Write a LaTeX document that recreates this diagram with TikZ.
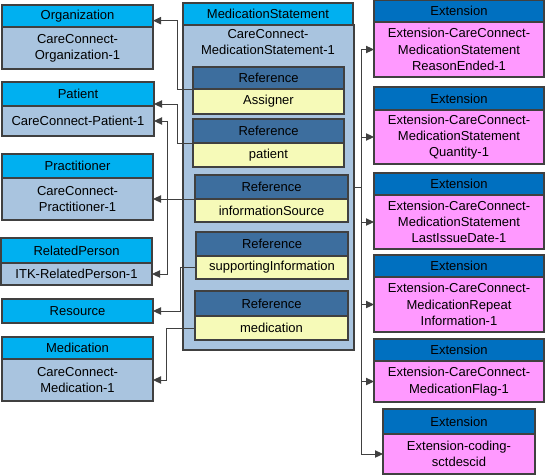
\documentclass[tikz,border=0pt]{standalone}
\usepackage{fontspec}
\setmainfont{Liberation Sans}
\usetikzlibrary{arrows.meta,calc}
\definecolor{hdr}{HTML}{00B0F0}
\definecolor{bdy}{HTML}{A9C4DF}
\definecolor{refh}{HTML}{3D6E9E}
\definecolor{refb}{HTML}{F6FAB8}
\definecolor{exth}{HTML}{0070C0}
\definecolor{extb}{HTML}{FF99FF}
\definecolor{edge}{HTML}{404040}
\newcommand\bx[7]{\node[#6, minimum width={(#4-#2)*0.75pt}, minimum height={(#5-#3)*0.75pt}] (#1) at ({(#2+#4)/2},{(#3+#5)/2}) {#7};}
\begin{document}
\begin{tikzpicture}[x=0.75pt,y=-0.75pt,
  font=\fontsize{9.75}{12.2}\selectfont,
  box/.style={draw=edge, line width=0.8pt, inner sep=0pt, outer sep=0pt, align=center},
  hd/.style={box, fill=hdr},
  bd/.style={box, fill=bdy},
  rh/.style={box, fill=refh},
  rb/.style={box, fill=refb},
  eh/.style={box, fill=exth},
  eb/.style={box, fill=extb},
  conn/.style={draw=edge, line width=0.75pt, -{Triangle[length=6pt,width=5.5pt]}},
  wire/.style={draw=edge, line width=0.75pt}]
\useasboundingbox (0,0) rectangle (545,475);
% left boxes
\bx{orgH}{2}{5}{153}{27}{hd}{Organization}
\bx{orgB}{2}{27}{153}{69}{bd}{CareConnect-\\Organization-1}
\bx{patH}{2}{82}{154}{106}{hd}{Patient}
\bx{patB}{2}{106}{154}{136}{bd}{CareConnect-Patient-1}
\bx{prH}{2}{154}{153}{178}{hd}{Practitioner}
\bx{prB}{2}{178}{153}{220}{bd}{CareConnect-\\Practitioner-1}
\bx{rpH}{1}{238}{152}{263}{hd}{RelatedPerson}
\bx{rpB}{1}{263}{152}{285}{bd}{ITK-RelatedPerson-1}
\bx{resH}{2}{299}{153}{323}{hd}{Resource}
\bx{mdH}{2}{337}{153}{359}{hd}{Medication}
\bx{mdB}{2}{359}{153}{401}{bd}{CareConnect-\\Medication-1}
% medication statement
\bx{msH}{183}{3}{353}{25}{hd}{MedicationStatement}
\bx{msB}{183}{25}{354}{350}{bd}{}
\node[align=center, anchor=north, inner sep=0pt] (msT) at (268,29) {CareConnect-\\MedicationStatement-1};
\bx{asgH}{193}{67}{344}{89}{rh}{Reference}
\bx{asgB}{193}{89}{344}{114}{rb}{Assigner}
\bx{ptH}{193}{119}{344}{143}{rh}{Reference}
\bx{ptB}{193}{143}{344}{167}{rb}{patient}
\bx{infH}{195}{175}{348}{199}{rh}{Reference}
\bx{infB}{195}{199}{348}{222}{rb}{informationSource}
\bx{supH}{196}{232}{348}{256}{rh}{Reference}
\bx{supB}{196}{256}{348}{279}{rb}{supportingInformation}
\bx{medH}{195}{291}{348}{316}{rh}{Reference}
\bx{medB}{195}{316}{348}{340}{rb}{medication}
% extensions
\bx{e1H}{374}{0}{544}{22}{eh}{Extension}
\bx{e1B}{374}{22}{544}{77}{eb}{Extension-CareConnect-\\MedicationStatement\\ReasonEnded-1}
\bx{e2H}{374}{87}{544}{110}{eh}{Extension}
\bx{e2B}{374}{110}{544}{164}{eb}{Extension-CareConnect-\\MedicationStatement\\Quantity-1}
\bx{e3H}{374}{173}{544}{195}{eh}{Extension}
\bx{e3B}{374}{195}{544}{249}{eb}{Extension-CareConnect-\\MedicationStatement\\LastIssueDate-1}
\bx{e4H}{374}{255}{544}{277}{eh}{Extension}
\bx{e4B}{374}{277}{544}{332}{eb}{Extension-CareConnect-\\MedicationRepeat\\Information-1}
\bx{e5H}{374}{339}{544}{361}{eh}{Extension}
\bx{e5B}{374}{361}{544}{402}{eb}{Extension-CareConnect-\\MedicationFlag-1}
\bx{e6H}{383}{409}{535}{434}{eh}{Extension}
\bx{e6B}{383}{434}{535}{474}{eb}{Extension-coding-\\sctdescid}
% connectors left
\draw[conn] (asgB.north west) -- ++(-16,0) |- ([yshift=-3.5pt]orgH.east);
\draw[conn] (ptB.north west) -- ++(-16,0) |- ([yshift=-7.5pt]patH.east);
\draw[conn] (infB.north west) -- (infB.north west -| prB.east);
\coordinate (j1) at ($(infB.north west -| prB.east)+(14,0)$);
\draw[conn] (j1) |- (patB.east);
\draw[conn] (j1) |- (rpB.east);
\draw[conn] (supB.west) -- ++(-16,0) |- (resH.east);
\draw[conn] (medB.west) -- ++(-29,0) |- (mdB.east);
% connectors right
\draw[wire] (msB.east) -- ++(7,0) coordinate (tr);
\foreach \e in {e1B,e2B,e3B,e4B,e5B,e6B}{\draw[conn] (tr) |- (\e.west);}
\end{tikzpicture}
\end{document}
